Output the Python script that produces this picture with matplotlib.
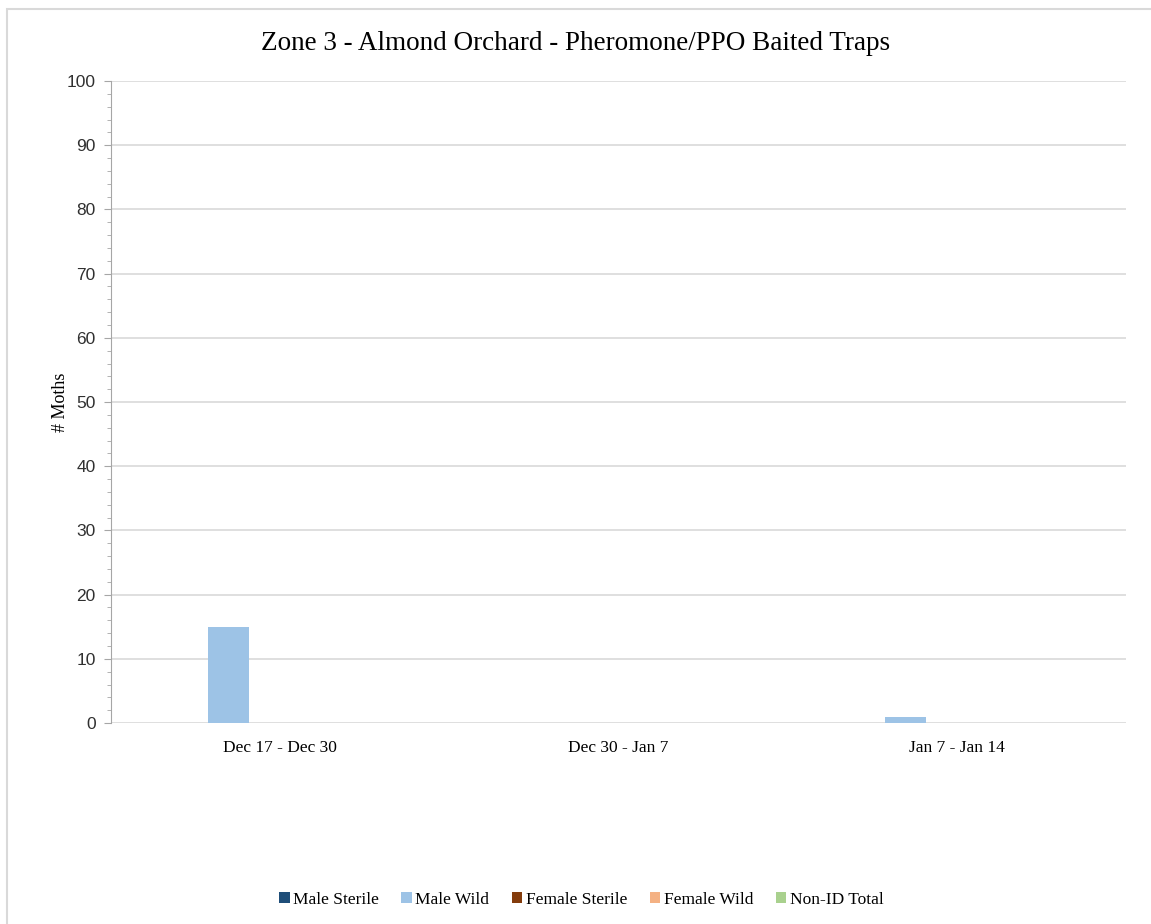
import matplotlib.pyplot as plt
import numpy as np
from matplotlib.patches import Rectangle

plt.rcParams['font.family'] = ['Liberation Serif', 'DejaVu Serif']

categories = ['Dec 17 - Dec 30', 'Dec 30 - Jan 7', 'Jan 7 - Jan 14']
series_names = ['Male Sterile', 'Male Wild', 'Female Sterile', 'Female Wild', 'Non-ID Total']
male_sterile = [0, 0, 0]
male_wild = [15, 0, 1]
female_sterile = [0, 0, 0]
female_wild = [0, 0, 0]
non_id_total = [0, 0, 0]
colors = ['#1f4e79', '#9dc3e6', '#843c0c', '#f4b183', '#a9d18e']

fig = plt.figure(figsize=(11.51, 9.24), dpi=100)
ax = fig.add_axes([0.0964, 0.2175, 0.8816, 0.6948])

x = np.arange(len(categories))
w = 0.121
all_series = [male_sterile, male_wild, female_sterile, female_wild, non_id_total]
for i, (name, vals, c) in enumerate(zip(series_names, all_series, colors)):
    ax.bar(x + (i - 2.25) * w, vals, w, color=c, label=name, zorder=3)

ax.set_xlim(-0.5, 2.5)
ax.set_ylim(0, 100)
ax.set_yticks(np.arange(0, 101, 10))
ax.set_yticks(np.arange(0, 101, 2), minor=True)
ax.set_xticks(x)
ax.set_xticklabels(categories, fontsize=12.5)
ax.tick_params(axis='x', length=0, pad=12)
ax.tick_params(axis='y', which='major', length=5, color='#a6a6a6', labelsize=12.5,
               pad=6, labelcolor='#303030')
ax.tick_params(axis='y', which='minor', length=3, color='#a6a6a6')
for lbl in ax.get_yticklabels():
    lbl.set_fontfamily(['Liberation Sans', 'DejaVu Sans'])
ax.grid(True, axis='y', color='#d9d9d9', linewidth=1.2, zorder=0)
for s in ['top', 'right', 'bottom']:
    ax.spines[s].set_visible(False)
ax.spines['left'].set_color('#a6a6a6')
ax.set_ylabel('# Moths', fontsize=13, labelpad=-2)

fig.text(0.5, 0.953, 'Zone 3 - Almond Orchard - Pheromone/PPO Baited Traps',
         ha='center', va='center', fontsize=19.5)

fig.legend(loc='center', bbox_to_anchor=(0.505, 0.026), ncol=5, frameon=False,
           fontsize=12.5, handlelength=0.6, handleheight=0.6, handletextpad=0.2,
           columnspacing=1.3)

fig.patches.append(Rectangle((0.0065, -0.05), 1.1, 1.040, transform=fig.transFigure,
                             fill=False, edgecolor='#d9d9d9', linewidth=1.5))

fig.savefig('out.png', dpi=100)
